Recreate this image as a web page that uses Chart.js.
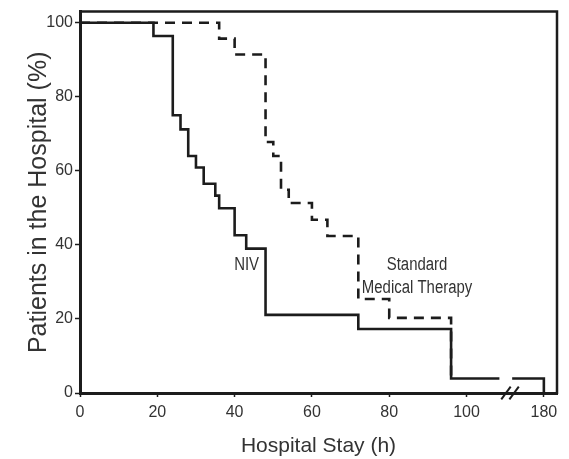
<!DOCTYPE html>
<html>
<head>
<meta charset="utf-8">
<script src="https://cdn.jsdelivr.net/npm/chart.js@4.4.1/dist/chart.umd.min.js"></script>
<style>
  html, body { margin: 0; padding: 0; background: #ffffff; }
  #wrap { width: 569px; height: 459px; }
</style>
</head>
<body>
<div id="wrap"><canvas id="c" width="569" height="459"></canvas></div>
<script>
// ---- data ----
const nivTimes    = [0, 19, 24, 26, 28, 30, 32, 35, 36, 40, 43, 48, 72, 96, 120];
const nivPercent  = [100, 96.4, 75.0, 71.2, 64.0, 60.9, 56.5, 53.3, 49.9, 42.6, 39.0, 21.1, 17.3, 3.9, 0];
const smtTimes    = [0, 36, 40, 48, 50, 52, 54, 60, 64, 72, 80, 96];
const smtPercent  = [100, 95.7, 91.4, 67.8, 64.0, 54.9, 51.3, 46.8, 42.4, 25.4, 20.3, 3.9];
const xTickValues = [0, 20, 40, 60, 80, 100, 120];
const xTickLabels = ['0', '20', '40', '60', '80', '100', '180'];
const yTickValues = [0, 20, 40, 60, 80, 100];
const yTickLabels = ['0', '20', '40', '60', '80', '100'];
const seriesNames = ['NIV', 'Standard Medical Therapy'];
const noteLines   = [['NIV'], ['Standard', 'Medical Therapy']];

const ink = '#1c1c1c';
const textInk = '#333333';

function pts(xs, ys) { return xs.map((x, i) => ({ x: x, y: ys[i] })); }

// annotation anchors in data units (x centre, baseline y of each line)
const notePlacement = [
  { x: 43.1, y: 33.2, dy: 22.5 },
  { x: 87.2, y: 33.2, dy: 22.5 }
];
const noteFont = '18px "Liberation Sans"';
const noteSquash = 0.83;

const decorPlugin = {
  id: 'decor',
  afterDatasetsDraw(chart) {
    const { ctx, chartArea, scales } = chart;
    const xs = scales.x, ys = scales.y;
    ctx.save();
    // gap in the NIV line at the axis break
    const g0 = xs.getPixelForValue(108.5), g1 = xs.getPixelForValue(111.8);
    ctx.fillStyle = '#ffffff';
    ctx.fillRect(g0, ys.getPixelForValue(8), g1 - g0, ys.getPixelForValue(1) - ys.getPixelForValue(8));
    // frame: top and right
    ctx.strokeStyle = ink;
    ctx.lineWidth = 2.5;
    ctx.beginPath();
    ctx.moveTo(chartArea.left - 1, chartArea.top);
    ctx.lineTo(chartArea.right, chartArea.top);
    ctx.lineTo(chartArea.right, chartArea.bottom + 1);
    ctx.stroke();
    // notes (slightly condensed face, as in the original)
    ctx.fillStyle = textInk;
    ctx.font = noteFont;
    ctx.textAlign = 'center';
    ctx.textBaseline = 'alphabetic';
    noteLines.forEach((lines, i) => {
      const p = notePlacement[i];
      const px = xs.getPixelForValue(p.x);
      const py = ys.getPixelForValue(p.y);
      lines.forEach((t, j) => {
        ctx.save();
        ctx.translate(px, py + j * p.dy);
        ctx.scale(noteSquash, 1);
        ctx.fillText(t, 0, 0);
        ctx.restore();
      });
    });
    ctx.restore();
  },
  afterDraw(chart) {
    const { ctx, scales } = chart;
    const xs = scales.x, ys = scales.y;
    ctx.save();
    ctx.strokeStyle = ink;
    ctx.lineWidth = 2;
    const y0 = ys.getPixelForValue(0);
    [110.2, 112.3].forEach(v => {
      const cx = xs.getPixelForValue(v);
      ctx.beginPath();
      ctx.moveTo(cx - 4.7, y0 + 6.3);
      ctx.lineTo(cx + 4.7, y0 - 6.3);
      ctx.stroke();
    });
    ctx.restore();
  }
};

new Chart(document.getElementById('c'), {
  type: 'line',
  data: {
    datasets: [
      {
        label: seriesNames[0],
        data: pts(nivTimes, nivPercent),
        borderColor: ink,
        borderWidth: 2.6,
        stepped: 'before',
        pointRadius: 0,
        fill: false,
        order: 0
      },
      {
        label: seriesNames[1],
        data: pts(smtTimes, smtPercent),
        borderColor: ink,
        borderWidth: 2.6,
        borderDash: [10, 7],
        stepped: 'before',
        pointRadius: 0,
        fill: false,
        order: 1
      }
    ]
  },
  options: {
    responsive: false,
    devicePixelRatio: 1,
    animation: false,
    layout: { padding: { top: 9, right: 12, bottom: 0, left: 0 } },
    plugins: { legend: { display: false }, tooltip: { enabled: false } },
    scales: {
      x: {
        type: 'linear',
        min: 0,
        max: 123.4,
        afterBuildTicks(s) { s.ticks = xTickValues.map(v => ({ value: v })); },
        afterFit(s) { s.height = 66; },
        ticks: {
          color: textInk,
          font: { family: '"Liberation Sans"', size: 16 },
          padding: 6,
          maxRotation: 0,
          autoSkip: false,
          callback: (v) => xTickLabels[xTickValues.indexOf(v)]
        },
        grid: { drawOnChartArea: false, drawTicks: true, tickLength: 4, tickWidth: 1.5, tickColor: ink },
        border: { display: true, width: 3, color: ink },
        title: {
          display: true,
          text: 'Hospital Stay (h)',
          color: textInk,
          font: { family: '"Liberation Sans"', size: 21 },
          padding: { top: 0, bottom: 0 }
        }
      },
      y: {
        type: 'linear',
        min: 0,
        max: 103,
        afterBuildTicks(s) { s.ticks = yTickValues.map(v => ({ value: v })); },
        afterFit(s) { s.width = 80; },
        ticks: {
          color: textInk,
          font: { family: '"Liberation Sans"', size: 16 },
          padding: 2,
          autoSkip: false,
          callback: (v) => yTickLabels[yTickValues.indexOf(v)]
        },
        grid: { drawOnChartArea: false, drawTicks: true, tickLength: 5, tickWidth: 1.5, tickColor: ink },
        border: { display: true, width: 3, color: ink },
        title: {
          display: true,
          text: 'Patients in the Hospital (%)',
          color: textInk,
          font: { family: '"Liberation Sans"', size: 25 },
          padding: { top: 24, bottom: 0 }
        }
      }
    }
  },
  plugins: [decorPlugin]
});
</script>
</body>
</html>
